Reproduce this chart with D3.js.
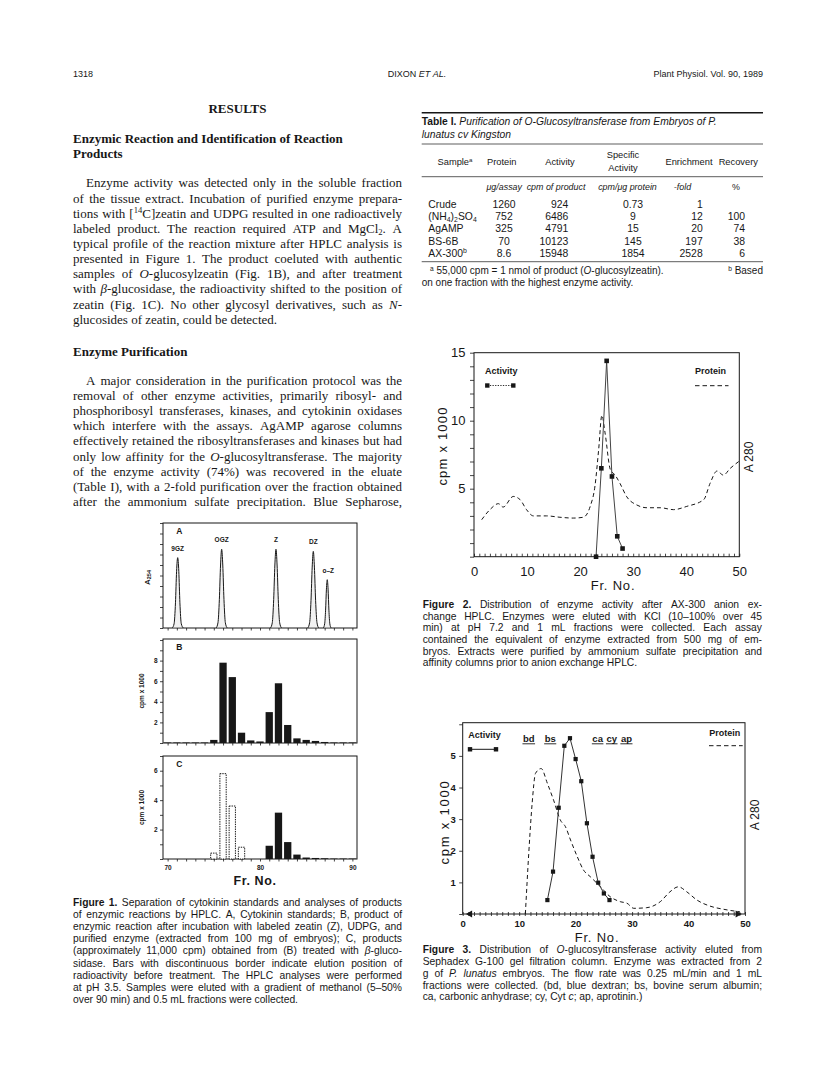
<!DOCTYPE html>
<html><head><meta charset="utf-8"><title>Dixon et al. 1989, p. 1318</title>
<script src="https://cdn.jsdelivr.net/npm/d3@7/dist/d3.min.js"></script>
<style>html,body{margin:0;padding:0;background:#fff}svg{display:block}</style>
</head><body>
<svg id="page" width="816" height="1073" xmlns="http://www.w3.org/2000/svg"></svg>
<script>
// ======================= DATA =======================
const headerLeft = "1318";
const headerCenter = "DIXON _ET AL._";
const headerRight = "Plant Physiol. Vol. 90, 1989";

const resultsTitle = "RESULTS";
const subhead1Lines = ["Enzymic Reaction and Identification of Reaction", "Products"];
const para1Lines = [
  "Enzyme activity was detected only in the soluble fraction",
  "of the tissue extract. Incubation of purified enzyme prepara-",
  "tions with [^14^C]zeatin and UDPG resulted in one radioactively",
  "labeled product. The reaction required ATP and MgCl~2~. A",
  "typical profile of the reaction mixture after HPLC analysis is",
  "presented in Figure 1. The product coeluted with authentic",
  "samples of _O_-glucosylzeatin (Fig. 1B), and after treatment",
  "with _β_-glucosidase, the radioactivity shifted to the position of",
  "zeatin (Fig. 1C). No other glycosyl derivatives, such as _N_-",
  "glucosides of zeatin, could be detected."
];
const subhead2 = "Enzyme Purification";
const para2Lines = [
  "A major consideration in the purification protocol was the",
  "removal of other enzyme activities, primarily ribosyl- and",
  "phosphoribosyl transferases, kinases, and cytokinin oxidases",
  "which interfere with the assays. AgAMP agarose columns",
  "effectively retained the ribosyltransferases and kinases but had",
  "only low affinity for the _O_-glucosyltransferase. The majority",
  "of the enzyme activity (74%) was recovered in the eluate",
  "(Table I), with a 2-fold purification over the fraction obtained",
  "after the ammonium sulfate precipitation. Blue Sepharose,"
];

const fig1CaptionLines = [
  "*Figure 1.* Separation of cytokinin standards and analyses of products",
  "of enzymic reactions by HPLC. A, Cytokinin standards; B, product of",
  "enzymic reaction after incubation with labeled zeatin (Z), UDPG, and",
  "purified enzyme (extracted from 100 mg of embryos); C, products",
  "(approximately 11,000 cpm) obtained from (B) treated with _β_-gluco-",
  "sidase. Bars with discontinuous border indicate elution position of",
  "radioactivity before treatment. The HPLC analyses were performed",
  "at pH 3.5. Samples were eluted with a gradient of methanol (5–50%",
  "over 90 min) and 0.5 mL fractions were collected."
];
const fig2CaptionLines = [
  "*Figure 2.* Distribution of enzyme activity after AX-300 anion ex-",
  "change HPLC. Enzymes were eluted with KCl (10–100% over 45",
  "min) at pH 7.2 and 1 mL fractions were collected. Each assay",
  "contained the equivalent of enzyme extracted from 500 mg of em-",
  "bryos. Extracts were purified by ammonium sulfate precipitation and",
  "affinity columns prior to anion exchange HPLC."
];
const fig3CaptionLines = [
  "*Figure 3.* Distribution of _O_-glucosyltransferase activity eluted from",
  "Sephadex G-100 gel filtration column. Enzyme was extracted from 2",
  "g of _P. lunatus_ embryos. The flow rate was 0.25 mL/min and 1 mL",
  "fractions were collected. (bd, blue dextran; bs, bovine serum albumin;",
  "ca, carbonic anhydrase; cy, Cyt _c_; ap, aprotinin.)"
];

// Table I
const tableTitleLines = ["*Table I.* _Purification of O-Glucosyltransferase from Embryos of P._", "_lunatus cv Kingston_"];
const tableHeaders = ["Sample^a^", "Protein", "Activity", "Specific|Activity", "Enrichment", "Recovery"];
const tableUnits = ["", "_μg/assay_", "_cpm of product_", "_cpm/μg protein_", "_-fold_", "%"];
const tableSamples = ["Crude", "(NH~4~)~2~SO~4~", "AgAMP", "BS-6B", "AX-300^b^"];
const tableProtein = ["1260", "752", "325", "70", "8.6"];
const tableActivity = ["924", "6486", "4791", "10123", "15948"];
const tableSpecific = ["0.73", "9", "15", "145", "1854"];
const tableEnrichment = ["1", "12", "20", "197", "2528"];
const tableRecovery = ["", "100", "74", "38", "6"];
const tableFootA = "^a^ 55,000 cpm = 1 nmol of product (_O_-glucosylzeatin).";
const tableFootB1 = "^b^ Based";
const tableFootB2 = "on one fraction with the highest enzyme activity.";

// Figure 1
const fig1Fractions = [70,71,72,73,74,75,76,77,78,79,80,81,82,83,84,85,86,87,88,89,90];
const fig1XTickLabels = [70, 80, 90];
const fig1PeakLabels = ["9GZ", "OGZ", "Z", "DZ", "o–Z"];
const fig1Peak9GZ = [[70.5,0],[70.7,0.04],[70.85,0.24],[70.97,0.54],[71.09,0.67],[71.21,0.54],[71.33,0.24],[71.48,0.04],[71.7,0]];
const fig1PeakOGZ = [[75.25,0],[75.45,0.05],[75.6,0.27],[75.73,0.6],[75.85,0.75],[75.97,0.6],[76.1,0.27],[76.25,0.05],[76.45,0]];
const fig1PeakZ   = [[81.13,0],[81.33,0.05],[81.48,0.27],[81.61,0.6],[81.73,0.75],[81.85,0.6],[81.98,0.27],[82.13,0.05],[82.33,0]];
const fig1PeakDZ  = [[85.17,0],[85.37,0.05],[85.52,0.26],[85.65,0.58],[85.77,0.73],[85.89,0.58],[86.02,0.26],[86.17,0.05],[86.35,0]];
const fig1PeakOZ  = [[86.85,0],[87.0,0.04],[87.1,0.17],[87.19,0.37],[87.28,0.46],[87.37,0.37],[87.46,0.17],[87.56,0.04],[87.7,0]];
const fig1BValues  = [0.05,0.05,0.05,0.05,0.05,0.3,7.8,6.4,1.0,0.25,0.15,3.0,5.8,1.75,0.45,0.3,0.2,0.1,0.05,0.05,0.05];
const fig1CBefore  = [0,0,0,0,0,0.4,5.8,3.6,0.8,0,0,0,0,0,0,0,0,0,0,0,0];
const fig1CAfter   = [0,0,0,0,0,0,0,0,0,0,0,0.9,3.15,1.15,0.3,0.1,0.07,0.05,0.03,0.03,0.03];
const fig1BTickLabels = [2, 4, 6, 8];
const fig1CTickLabels = [2, 4, 6];

// Figure 2
const fig2XTickLabels = [0, 10, 20, 30, 40, 50];
const fig2YTickLabels = [5, 10, 15];
const fig2ActivityFr  = [23, 24, 25, 26, 27, 28];
const fig2ActivityVal = [0, 6.5, 14.4, 5.9, 1.5, 0.6];
const fig2ProteinFr  = [1.45,3.0,4.6,5.5,7.4,8.7,9.9,11.2,13.7,16.2,18.7,20.6,21.9,22.8,23.5,24.1,24.7,25.7,26.6,27.5,28.8,30.7,32.6,35.1,37.6,40.1,43.3,44.5,45.8,47.0,48.3,49.9];
const fig2ProteinVal = [2.72,3.46,3.9,3.65,4.43,4.19,3.46,3.0,3.0,2.9,2.84,2.9,3.7,5.2,7.9,10.4,9.1,6.4,6.0,5.4,4.4,3.8,3.6,3.6,3.46,3.7,4.2,5.4,6.3,6.0,6.5,7.0];

// Figure 3
const fig3XTickLabels = [0, 10, 20, 30, 40, 50];
const fig3YTickLabels = [1, 2, 3, 4, 5];
const fig3ActivityFr  = [15,16,17,18,19,20,21,22,23,24,25,26];
const fig3ActivityVal = [0.44,1.34,3.36,5.32,5.56,4.9,4.2,2.87,1.81,0.99,0.65,0.44];
const fig3ProteinFr  = [11.1,11.7,12.3,12.9,13.9,15.0,16.1,17.3,18.2,19.1,20.3,21.4,22.6,24.4,26.1,27.9,29.1,30.3,32.6,35.0,36.7,38.2,39.7,41.5,43.8,46.2,49.1];
const fig3ProteinVal = [0,1.92,3.5,4.45,4.6,4.13,3.6,2.97,2.76,2.34,1.81,1.39,1.18,0.86,0.55,0.39,0.34,0.18,0.2,0.39,0.7,0.86,0.7,0.44,0.25,0.15,0.07];
const fig3MarkerLabels = ["bd", "bs", "ca", "cy", "ap"];
const fig3MarkerFr = [11.7, 15.5, 23.9, 26.4, 29.0];
const fig3ArrowFr = [1.3, 48.7];

// ======================= RENDER =======================
const svg = d3.select('#page');
svg.append('rect').attr('width', 816).attr('height', 1073).attr('fill', '#fff');
const INK = '#171717';
const SERIF = "'Liberation Serif','Times New Roman',Times,serif";
const SANS = "'Liberation Sans',Arial,Helvetica,sans-serif";

function parseMarkup(str) {
  const segs = []; const f = {i:false, b:false, sup:false, sub:false}; let buf = '';
  const flush = () => { if (buf) { segs.push({t: buf, i: f.i, b: f.b, sup: f.sup, sub: f.sub}); buf = ''; } };
  for (const ch of str) {
    if (ch === '_') { flush(); f.i = !f.i; }
    else if (ch === '*') { flush(); f.b = !f.b; }
    else if (ch === '^') { flush(); f.sup = !f.sup; }
    else if (ch === '~') { flush(); f.sub = !f.sub; }
    else buf += ch;
  }
  flush(); return segs;
}
const spaceCache = {};
function spaceWidth(parent, family, size, bold) {
  const key = family + size + bold;
  if (spaceCache[key] !== undefined) return spaceCache[key];
  const mk = s => parent.append('text').attr('font-family', family).attr('font-size', size)
    .attr('font-weight', bold ? 'bold' : 'normal').text(s);
  const a = mk('n n'), b = mk('nn');
  const w = a.node().getComputedTextLength() - b.node().getComputedTextLength();
  a.remove(); b.remove();
  spaceCache[key] = w; return w;
}
function renderLine(parent, str, o) {
  const g = parent.append('g');
  const words = [[]];
  parseMarkup(str).forEach(s => {
    s.t.split(' ').forEach((p, k) => {
      if (k > 0) words.push([]);
      if (p) words[words.length - 1].push(Object.assign({}, s, {t: p}));
    });
  });
  const ws = words.filter(w => w.length);
  const nodes = ws.map(w => {
    const t = g.append('text').attr('x', 0).attr('y', o.y).attr('font-family', o.family)
      .attr('font-size', o.size).attr('fill', o.fill || INK);
    if (o.bold) t.attr('font-weight', 'bold');
    if (o.italic) t.attr('font-style', 'italic');
    if (o.ls) t.attr('letter-spacing', o.ls);
    let shift = 0;
    w.forEach(s => {
      const target = s.sup ? -o.size * 0.34 : (s.sub ? o.size * 0.16 : 0);
      const ts = t.append('tspan').text(s.t);
      if (target !== shift) ts.attr('dy', target - shift);
      shift = target;
      if (s.sup || s.sub) ts.attr('font-size', o.size * 0.66);
      if (s.i) ts.attr('font-style', 'italic');
      if (s.b) ts.attr('font-weight', 'bold');
    });
    return t;
  });
  const widths = nodes.map(n => n.node().getComputedTextLength());
  const sw = spaceWidth(g, o.family, o.size, o.bold);
  const sum = d3.sum(widths), n = nodes.length;
  const x0 = (o.x || 0) + (o.indent || 0);
  let gap = sw, start = x0;
  if (o.justify && n > 1) { gap = (o.x1 - x0 - sum) / (n - 1); }
  else {
    const total = sum + sw * (n - 1);
    if (o.anchor === 'middle') start = o.x - total / 2;
    else if (o.anchor === 'end') start = o.x - total;
  }
  let cx = start;
  nodes.forEach((nd, k) => { nd.attr('x', cx); cx += widths[k] + gap; });
  return g;
}
function paragraph(parent, lines, o) {
  lines.forEach((ln, k) => {
    const last = k === lines.length - 1;
    renderLine(parent, ln, Object.assign({}, o, {
      y: o.y0 + k * o.step,
      justify: o.justifyLast ? true : !last,
      indent: k === 0 ? (o.firstIndent || 0) : 0
    }));
  });
}
function rotText(parent, str, x, y, o) {
  const t = parent.append('text').attr('transform', `translate(${x},${y}) rotate(${o.rot || -90})`)
    .attr('text-anchor', 'middle').attr('dominant-baseline', 'central')
    .attr('font-family', o.family || SANS).attr('font-size', o.size).attr('fill', INK);
  if (o.bold) t.attr('font-weight', 'bold');
  if (o.ls) t.attr('letter-spacing', o.ls);
  parseMarkup(str).forEach(s => {
    const ts = t.append('tspan').text(s.t);
    if (s.sub) ts.attr('font-size', o.size * 0.7).attr('dy', o.size * 0.2);
  });
  return t;
}
function styleAxis(g, size, bold) {
  g.attr('font-family', SANS).attr('font-size', size).attr('font-weight', bold ? 'bold' : 'normal');
  g.selectAll('.tick line').attr('stroke', INK).attr('stroke-width', 0.8);
  g.selectAll('.tick text').attr('fill', INK);
  g.select('.domain').remove();
  return g;
}

// ---------- page header ----------
const L = {x0: 73, x1: 402}, R = {x0: 421.7, x1: 763};
const head = svg.append('g');
renderLine(head, headerLeft, {x: L.x0, y: 77.3, size: 9, family: SANS});
renderLine(head, headerCenter, {x: 417, y: 77.3, size: 9, family: SANS, anchor: 'middle'});
renderLine(head, headerRight, {x: R.x1, y: 77.3, size: 9, family: SANS, anchor: 'end'});

// ---------- left column body ----------
const body = svg.append('g');
renderLine(body, resultsTitle, {x: (L.x0 + L.x1) / 2, y: 112.5, size: 13, family: SERIF, bold: true, anchor: 'middle'});
subhead1Lines.forEach((s, k) => renderLine(body, s, {x: L.x0, y: 143 + k * 14.5, size: 13, family: SERIF, bold: true}));
paragraph(body, para1Lines, {x: L.x0, x1: L.x1, y0: 187.4, step: 15.15, size: 13, family: SERIF, firstIndent: 13});
renderLine(body, subhead2, {x: L.x0, y: 356, size: 13, family: SERIF, bold: true});
paragraph(body, para2Lines, {x: L.x0, x1: L.x1, y0: 384.8, step: 15.15, size: 13, family: SERIF, firstIndent: 13, justifyLast: true});

// ---------- captions ----------
const cap = svg.append('g');
paragraph(cap, fig1CaptionLines, {x: L.x0, x1: L.x1, y0: 905.5, step: 12.2, size: 10.3, family: SANS});
paragraph(cap, fig2CaptionLines, {x: R.x0 + 1, x1: R.x1 - 1, y0: 607.8, step: 11.7, size: 10.3, family: SANS});
paragraph(cap, fig3CaptionLines, {x: R.x0 + 1, x1: R.x1 - 1, y0: 953.4, step: 11.7, size: 10.3, family: SANS});

// ---------- Table I ----------
const tbl = svg.append('g');
[[112.7, 1.4], [144, 0.7], [176.7, 0.7], [261.7, 0.7]].forEach(([y, w]) =>
  tbl.append('line').attr('x1', R.x0).attr('x2', R.x1).attr('y1', y).attr('y2', y).attr('stroke', INK).attr('stroke-width', w));
tableTitleLines.forEach((s, k) => renderLine(tbl, s, {x: R.x0, y: 125.3 + k * 12.6, size: 10.3, family: SANS}));
const hdrX = [455, 501.7, 560, 623, 689, 738.3];
tableHeaders.forEach((h, k) => {
  const parts = h.split('|');
  if (parts.length === 1) renderLine(tbl, h, {x: hdrX[k], y: 164.8, size: 9.3, family: SANS, anchor: 'middle'});
  else parts.forEach((p, j) => renderLine(tbl, p, {x: hdrX[k], y: 158.2 + j * 13, size: 9.3, family: SANS, anchor: 'middle'}));
});
const unitX = [0, 486.5, 556, 627.5, 682.5, 736];
tableUnits.forEach((u, k) => { if (u) renderLine(tbl, u, {x: unitX[k], y: 189.8, size: 8.9, family: SANS, anchor: k === 1 ? 'start' : 'middle'}); });
const cols = [tableSamples, tableProtein, tableActivity, tableSpecific, tableEnrichment, tableRecovery];
const colX = [428.3, 504, 568.3, 633, 702.7, 745];
const colAnchor = ['start', 'middle', 'end', 'middle', 'end', 'end'];
const rowY = d3.scalePoint().domain(d3.range(tableSamples.length)).range([208.2, 256.6]);
cols.forEach((col, c) => col.forEach((v, r) => {
  if (v) renderLine(tbl, v, {x: colX[c], y: rowY(r), size: 10.4, family: SANS, anchor: colAnchor[c]});
}));
renderLine(tbl, tableFootA, {x: 430, y: 274.3, size: 10, family: SANS});
renderLine(tbl, tableFootB1, {x: R.x1, y: 274.3, size: 10, family: SANS, anchor: 'end'});
renderLine(tbl, tableFootB2, {x: R.x0, y: 286.3, size: 10, family: SANS});

// ---------- Figure 1 ----------
const f1 = svg.append('g');
const f1x = d3.scaleLinear().domain([69.5, 90.5]).range([163, 357]);
const pA = {top: 523, bot: 628}, pB = {top: 639, bot: 743}, pC = {top: 756, bot: 859};
const yA = d3.scaleLinear().domain([0, 1]).range([pA.bot, pA.top]);
const yB = d3.scaleLinear().domain([0, 10.1]).range([pB.bot, pB.top]);
const yC = d3.scaleLinear().domain([0, 7]).range([pC.bot, pC.top]);
const bw = (f1x(1) - f1x(0)) * 0.79;

function f1Panel(y, p, ticksN, labels, xLabels) {
  f1.append('g').attr('transform', `translate(${f1x.range()[0]},0)`)
    .call(d3.axisLeft(y).ticks(ticksN).tickSize(3).tickPadding(2.5)
      .tickFormat(d => labels.includes(d) ? d : ''))
    .call(g => styleAxis(g, 6.5, true));
  f1.append('g').attr('transform', `translate(0,${p.bot})`)
    .call(d3.axisBottom(f1x).tickValues(fig1Fractions).tickSize(2.5).tickPadding(4)
      .tickFormat(d => xLabels.includes(d) ? d : ''))
    .call(g => styleAxis(g, 6.5, true));
  f1.append('rect').attr('x', f1x.range()[0]).attr('y', p.top)
    .attr('width', f1x.range()[1] - f1x.range()[0]).attr('height', p.bot - p.top)
    .attr('fill', 'none').attr('stroke', INK).attr('stroke-width', 1);
}
f1Panel(yA, pA, 10, [], []);
f1Panel(yB, pB, 10, fig1BTickLabels, []);
f1Panel(yC, pC, 7, fig1CTickLabels, fig1XTickLabels);

// panel A chromatogram
const peakLine = d3.line().x(d => f1x(d[0])).y(d => yA(d[1])).curve(d3.curveMonotoneX);
const peaks = [fig1Peak9GZ, fig1PeakOGZ, fig1PeakZ, fig1PeakDZ, fig1PeakOZ];
f1.append('g').selectAll('path').data(peaks).join('path')
  .attr('d', peakLine).attr('fill', '#d8d8d8').attr('fill-opacity', 0.35)
  .attr('stroke', INK).attr('stroke-width', 1);
peaks.forEach((pk, k) => {
  const top = pk.reduce((a, b) => b[1] > a[1] ? b : a);
  f1.append('text').attr('x', f1x(top[0]) + (k === 4 ? 1 : 0)).attr('y', yA(top[1]) - 7)
    .attr('text-anchor', 'middle').attr('font-family', SANS).attr('font-size', 6.5)
    .attr('font-weight', 'bold').attr('fill', INK).text(fig1PeakLabels[k]);
});
// panel B bars
f1.append('g').selectAll('rect').data(fig1Fractions).join('rect')
  .attr('x', d => f1x(d) - bw / 2).attr('width', bw)
  .attr('y', (d, i) => yB(fig1BValues[i])).attr('height', (d, i) => yB(0) - yB(fig1BValues[i]))
  .attr('fill', INK);
// panel C bars
f1.append('g').selectAll('rect').data(fig1Fractions.filter((d, i) => fig1CBefore[i] > 0)).join('rect')
  .attr('x', d => f1x(d) - bw / 2 + 0.5).attr('width', bw - 1)
  .attr('y', d => yC(fig1CBefore[fig1Fractions.indexOf(d)]))
  .attr('height', d => yC(0) - yC(fig1CBefore[fig1Fractions.indexOf(d)]))
  .attr('fill', '#fff').attr('stroke', INK).attr('stroke-width', 1).attr('stroke-dasharray', '1.4,1');
f1.append('g').selectAll('rect').data(fig1Fractions).join('rect')
  .attr('x', d => f1x(d) - bw / 2).attr('width', bw)
  .attr('y', (d, i) => yC(fig1CAfter[i])).attr('height', (d, i) => yC(0) - yC(fig1CAfter[i]))
  .attr('fill', INK);
// panel letters and axis titles
[['A', pA], ['B', pB], ['C', pC]].forEach(([s, p]) =>
  f1.append('text').attr('x', 179.3).attr('y', p.top + 10.5).attr('text-anchor', 'middle')
    .attr('font-family', SANS).attr('font-size', 8.5).attr('font-weight', 'bold').attr('fill', INK).text(s));
rotText(f1, 'A~254~', 147, (pA.top + pA.bot) / 2 + 2, {size: 8, bold: true});
rotText(f1, 'cpm x 1000', 141, (pB.top + pB.bot) / 2, {size: 6.5, bold: true});
rotText(f1, 'cpm x 1000', 141, (pC.top + pC.bot) / 2, {size: 6.5, bold: true});
f1.append('text').attr('x', 255).attr('y', 884.5).attr('text-anchor', 'middle')
  .attr('font-family', SANS).attr('font-size', 12.5).attr('font-weight', 'bold')
  .attr('letter-spacing', 0.6).attr('fill', INK).text('Fr. No.');

// ---------- Figure 2 ----------
const f2 = svg.append('g');
const f2x = d3.scaleLinear().domain([0, 50]).range([474, 739.3]);
const f2y = d3.scaleLinear().domain([0, 15]).range([556.7, 352.7]);
f2.append('g').attr('transform', `translate(${f2x(0)},0)`)
  .call(d3.axisLeft(f2y).ticks(15).tickSize(4).tickPadding(4.5)
    .tickFormat(d => fig2YTickLabels.includes(d) ? d : ''))
  .call(g => styleAxis(g, 13, false));
f2.append('g').attr('transform', `translate(0,${f2y(0)})`)
  .call(d3.axisBottom(f2x).ticks(50).tickSize(-3).tickPadding(10)
    .tickFormat(d => fig2XTickLabels.includes(d) ? d : ''))
  .call(g => styleAxis(g, 13, false));
f2.append('rect').attr('x', f2x(0)).attr('y', f2y(15)).attr('width', f2x(50) - f2x(0))
  .attr('height', f2y(0) - f2y(15)).attr('fill', 'none').attr('stroke', INK).attr('stroke-width', 1);
const f2Protein = fig2ProteinFr.map((f, i) => [f, fig2ProteinVal[i]]);
const f2Activity = fig2ActivityFr.map((f, i) => [f, fig2ActivityVal[i]]);
f2.append('path').datum(f2Protein)
  .attr('d', d3.line().x(d => f2x(d[0])).y(d => f2y(d[1])).curve(d3.curveMonotoneX))
  .attr('fill', 'none').attr('stroke', INK).attr('stroke-width', 1).attr('stroke-dasharray', '4,3');
f2.append('path').datum(f2Activity)
  .attr('d', d3.line().x(d => f2x(d[0])).y(d => f2y(d[1])))
  .attr('fill', 'none').attr('stroke', '#444').attr('stroke-width', 1);
f2.append('g').selectAll('rect').data(f2Activity).join('rect')
  .attr('x', d => f2x(d[0]) - 2.3).attr('y', d => f2y(d[1]) - 2.3).attr('width', 4.6).attr('height', 4.6)
  .attr('fill', INK);
// legend
f2.append('text').attr('x', 485).attr('y', 374.3).attr('font-family', SANS).attr('font-size', 9)
  .attr('font-weight', 'bold').attr('fill', INK).text('Activity');
f2.append('line').attr('x1', 487.3).attr('x2', 513.3).attr('y1', 385.5).attr('y2', 385.5)
  .attr('stroke', INK).attr('stroke-width', 0.9).attr('stroke-dasharray', '1.3,1.3');
[487.3, 513.3].forEach(x => f2.append('rect').attr('x', x - 2.2).attr('y', 383.3).attr('width', 4.4).attr('height', 4.4).attr('fill', INK));
f2.append('text').attr('x', 695).attr('y', 374.3).attr('font-family', SANS).attr('font-size', 9)
  .attr('font-weight', 'bold').attr('fill', INK).text('Protein');
f2.append('line').attr('x1', 695).attr('x2', 728.5).attr('y1', 385.7).attr('y2', 385.7)
  .attr('stroke', INK).attr('stroke-width', 1).attr('stroke-dasharray', '4.5,3');
rotText(f2, 'cpm x 1000', 441.5, 446, {size: 13, ls: 1.2});
rotText(f2, 'A 280', 748.5, 457, {size: 12});
f2.append('text').attr('x', 613).attr('y', 589.8).attr('text-anchor', 'middle').attr('font-family', SANS)
  .attr('font-size', 13).attr('letter-spacing', 0.8).attr('fill', INK).text('Fr. No.');

// ---------- Figure 3 ----------
const f3 = svg.append('g');
const f3x = d3.scaleLinear().domain([0, 50]).range([462.7, 745]);
const f3y = d3.scaleLinear().domain([0, 6.05]).range([914, 722.7]);
f3.append('g').attr('transform', `translate(${f3x(0)},0)`)
  .call(d3.axisLeft(f3y).tickValues(d3.range(0, 7)).tickSize(3.5).tickPadding(3.5)
    .tickFormat(d => fig3YTickLabels.includes(d) ? d : ''))
  .call(g => styleAxis(g, 9.5, true));
f3.append('g').attr('transform', `translate(0,${f3y(0)})`)
  .call(d3.axisBottom(f3x).ticks(50).tickSize(2).tickPadding(4.5)
    .tickFormat(d => fig3XTickLabels.includes(d) ? d : ''))
  .call(g => styleAxis(g, 9.5, true));
f3.append('g').attr('transform', `translate(0,${f3y(0)})`)
  .call(d3.axisBottom(f3x).ticks(50).tickSize(-2).tickFormat(''))
  .call(g => styleAxis(g, 9.5, true));
f3.append('rect').attr('x', f3x(0)).attr('y', f3y(6.05)).attr('width', f3x(50) - f3x(0))
  .attr('height', f3y(0) - f3y(6.05)).attr('fill', 'none').attr('stroke', INK).attr('stroke-width', 1);
const f3Protein = fig3ProteinFr.map((f, i) => [f, fig3ProteinVal[i]]);
const f3Activity = fig3ActivityFr.map((f, i) => [f, fig3ActivityVal[i]]);
f3.append('path').datum(f3Protein)
  .attr('d', d3.line().x(d => f3x(d[0])).y(d => f3y(d[1])).curve(d3.curveMonotoneX))
  .attr('fill', 'none').attr('stroke', INK).attr('stroke-width', 1).attr('stroke-dasharray', '4,3');
f3.append('path').datum(f3Activity)
  .attr('d', d3.line().x(d => f3x(d[0])).y(d => f3y(d[1])))
  .attr('fill', 'none').attr('stroke', '#333').attr('stroke-width', 1);
f3.append('g').selectAll('rect').data(f3Activity).join('rect')
  .attr('x', d => f3x(d[0]) - 2.1).attr('y', d => f3y(d[1]) - 2.1).attr('width', 4.2).attr('height', 4.2)
  .attr('fill', INK);
f3.append('g').selectAll('path').data(fig3ArrowFr).join('path')
  .attr('d', d3.symbol(d3.symbolTriangle, 22))
  .attr('transform', (d, i) => `translate(${f3x(d)},${f3y(0)}) rotate(${i === 0 ? -90 : 90})`)
  .attr('fill', INK);
// size markers
fig3MarkerLabels.forEach((lab, k) => {
  const t = f3.append('text').attr('x', f3x(fig3MarkerFr[k])).attr('y', 742).attr('text-anchor', 'middle')
    .attr('font-family', SANS).attr('font-size', 9.5).attr('font-weight', 'bold').attr('fill', INK).text(lab);
  const w = t.node().getComputedTextLength();
  f3.append('line').attr('x1', f3x(fig3MarkerFr[k]) - w / 2 - 0.5).attr('x2', f3x(fig3MarkerFr[k]) + w / 2 + 0.5)
    .attr('y1', 743.8).attr('y2', 743.8).attr('stroke', INK).attr('stroke-width', 0.9);
});
// legend
f3.append('text').attr('x', 468.3).attr('y', 737.5).attr('font-family', SANS).attr('font-size', 9)
  .attr('font-weight', 'bold').attr('fill', INK).text('Activity');
f3.append('line').attr('x1', 470).attr('x2', 496).attr('y1', 749.3).attr('y2', 749.3).attr('stroke', INK).attr('stroke-width', 1);
[470, 496].forEach(x => f3.append('rect').attr('x', x - 2.2).attr('y', 747.1).attr('width', 4.4).attr('height', 4.4).attr('fill', INK));
f3.append('text').attr('x', 709.3).attr('y', 735.5).attr('font-family', SANS).attr('font-size', 9)
  .attr('font-weight', 'bold').attr('fill', INK).text('Protein');
f3.append('line').attr('x1', 709).attr('x2', 742.7).attr('y1', 745.7).attr('y2', 745.7)
  .attr('stroke', INK).attr('stroke-width', 1).attr('stroke-dasharray', '4.5,3');
rotText(f3, 'cpm x 1000', 444, 822, {size: 13, ls: 1.8});
rotText(f3, 'A 280', 755, 815, {size: 12});
f3.append('text').attr('x', 597).attr('y', 941.5).attr('text-anchor', 'middle').attr('font-family', SANS)
  .attr('font-size', 13).attr('letter-spacing', 0.8).attr('fill', INK).text('Fr. No.');
</script>
</body></html>
